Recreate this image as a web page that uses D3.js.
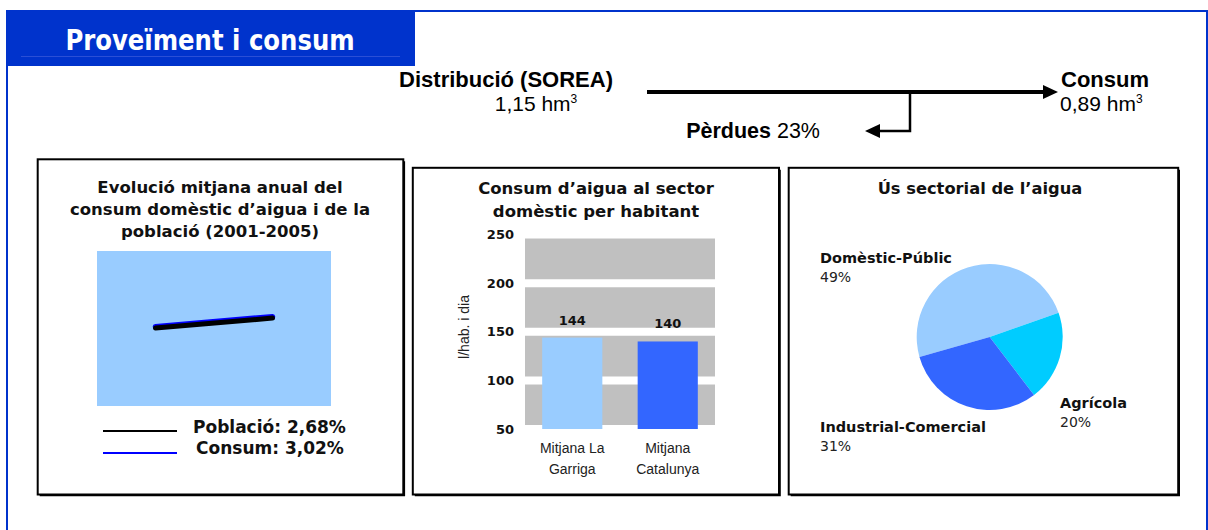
<!DOCTYPE html>
<html><head><meta charset="utf-8">
<script src="https://cdn.jsdelivr.net/npm/d3@7"></script>
<style>
html,body{margin:0;padding:0;background:#fff;}
svg{display:block;}
</style></head>
<body>
<svg id="c" width="1208" height="530"></svg>
<script>
// ---- data ----
const pageTitle = "Proveïment i consum";
const flowSource = ["Distribució (SOREA)", "1,15 hm", "3"];
const flowTarget = ["Consum", "0,89 hm", "3"];
const flowLoss = ["Pèrdues", " 23%"];

const lineTitle = ["Evolució mitjana anual del", "consum domèstic d’aigua i de la", "població (2001-2005)"];
const lineYears = [2001, 2005];
const poblacio = [100, 111];
const consum = [101.5, 112.5];
const lineLegend = ["Població: 2,68%", "Consum: 3,02%"];

const barTitle = ["Consum d’aigua al sector", "domèstic per habitant"];
const barCategories = [["Mitjana La", "Garriga"], ["Mitjana", "Catalunya"]];
const barValues = [144, 140];
const barTicks = [50, 100, 150, 200, 250];
const barAxisTitle = "l/hab. i dia";

const pieTitle = "Ús sectorial de l’aigua";
const pieCategories = ["Domèstic-Públic", "Agrícola", "Industrial-Comercial"];
const pieValues = [49, 20, 31];

// ---- drawing ----
const svg = d3.select("#c");
const BLUE = "#0033cc";
const boldF = "'DejaVu Sans', Verdana, sans-serif";
const armF = "'Liberation Sans', Arial, sans-serif";

// outer frame
svg.append("path").attr("d", "M7,530 V11 H1207 V530").attr("fill", "none").attr("stroke", BLUE).attr("stroke-width", 2);
svg.append("rect").attr("x", 6).attr("y", 10).attr("width", 409).attr("height", 56).attr("fill", BLUE);
svg.append("line").attr("x1", 21).attr("x2", 400).attr("y1", 56.5).attr("y2", 56.5).attr("stroke", "#2a4fd6").attr("stroke-width", 1);
svg.append("text").attr("transform", "translate(210,50) scale(0.87,1)").attr("text-anchor", "middle")
  .attr("font-family", boldF).attr("font-weight", "bold").attr("font-size", 28).attr("fill", "#fff").text(pageTitle);

// flow diagram
const fs = svg.append("g");
fs.append("text").attr("x", 613).attr("y", 87).attr("text-anchor", "end").attr("font-family", armF)
  .attr("font-weight", "bold").attr("font-size", 22).text(flowSource[0]);
let t1 = fs.append("text").attr("x", 536).attr("y", 111).attr("text-anchor", "middle").attr("font-family", armF).attr("font-size", 21);
t1.append("tspan").text(flowSource[1]);
t1.append("tspan").attr("dy", -8).attr("font-size", 12).text(flowSource[2]);
fs.append("text").attr("x", 1061).attr("y", 87).attr("font-family", armF).attr("font-weight", "bold").attr("font-size", 22).text(flowTarget[0]);
let t2 = fs.append("text").attr("x", 1060).attr("y", 111).attr("font-family", armF).attr("font-size", 21);
t2.append("tspan").text(flowTarget[1]);
t2.append("tspan").attr("dy", -8).attr("font-size", 12).text(flowTarget[2]);
let t3 = fs.append("text").attr("x", 820).attr("y", 138).attr("text-anchor", "end").attr("font-family", armF).attr("font-size", 21.5);
t3.append("tspan").attr("font-weight", "bold").text(flowLoss[0]);
t3.append("tspan").text(flowLoss[1]);
// arrows
fs.append("line").attr("x1", 647).attr("x2", 1045).attr("y1", 92).attr("y2", 92).attr("stroke", "#000").attr("stroke-width", 4);
fs.append("path").attr("d", "M1043,85 L1058,92 L1043,99 Z").attr("fill", "#000");
fs.append("path").attr("d", "M910,92 V131 H878").attr("fill", "none").attr("stroke", "#000").attr("stroke-width", 2.5);
fs.append("path").attr("d", "M880,124 L865,131 L880,138 Z").attr("fill", "#000");

// panels
function panel(x0, y0, x1, y1) {
  svg.append("rect").attr("x", x0).attr("y", y0).attr("width", x1 - x0).attr("height", y1 - y0)
    .attr("fill", "#fff").attr("stroke", "#000").attr("stroke-width", 2);
  svg.append("path").attr("d", `M${x0 + 2},${y1 + 1.2} H${x1 + 1.2} V${y0 + 2}`).attr("fill", "none").attr("stroke", "#000").attr("stroke-width", 1.2);
}
panel(37.7, 159.3, 403.3, 494.5);
panel(412.8, 167.8, 779, 494.5);
panel(788.7, 167.8, 1178.2, 494.5);

function titleLines(lines, cx, y0, dy, size) {
  lines.forEach((l, i) => svg.append("text").attr("x", cx).attr("y", y0 + i * dy).attr("text-anchor", "middle")
    .attr("font-family", boldF).attr("font-weight", "bold").attr("font-size", size).attr("fill", "#111").text(l));
}

// ---- panel 1: line chart ----
titleLines(lineTitle, 220, 193, 22, 16.5);
const lx = d3.scaleLinear().domain([1999, 2007]).range([97, 331]);
const ly = d3.scaleLinear().domain([14, 185]).range([406, 251]);
svg.append("rect").attr("x", lx(1999)).attr("y", ly(185)).attr("width", lx(2007) - lx(1999)).attr("height", ly(14) - ly(185)).attr("fill", "#99ccff");
const line = d3.line().x((d, i) => lx(lineYears[i])).y(d => ly(d));
svg.append("path").attr("d", line(consum)).attr("fill", "none").attr("stroke", "#0000ff").attr("stroke-width", 5.5).attr("stroke-linecap", "round");
svg.append("path").attr("d", line(poblacio)).attr("fill", "none").attr("stroke", "#000").attr("stroke-width", 5).attr("stroke-linecap", "round");
const legCol = ["#000", "#0000ff"];
lineLegend.forEach((l, i) => {
  svg.append("line").attr("x1", 103).attr("x2", 177).attr("y1", 431 + i * 22).attr("y2", 431 + i * 22).attr("stroke", legCol[i]).attr("stroke-width", 2);
  svg.append("text").attr("x", 193 + i * 3).attr("y", 433 + i * 21).attr("font-family", boldF).attr("font-weight", "bold")
    .attr("font-size", 17).attr("fill", "#111").text(l);
});

// ---- panel 2: bar chart ----
titleLines(barTitle, 596, 194, 23, 16.5);
const by = d3.scaleLinear().domain([50, 250]).range([429, 234.5]);
const bx = d3.scaleBand().domain(barCategories.map(d => d.join(" "))).range([525, 715]).paddingInner(0.37).paddingOuter(0.18);
svg.append("rect").attr("x", 525).attr("y", by(250)).attr("width", 190).attr("height", by(50) - by(250)).attr("fill", "#c0c0c0");
barTicks.forEach(v => {
  svg.append("line").attr("x1", 525).attr("x2", 715).attr("y1", by(v)).attr("y2", by(v)).attr("stroke", "#fff").attr("stroke-width", 8);
  svg.append("text").attr("x", 514).attr("y", by(v)).attr("dy", "0.36em").attr("text-anchor", "end")
    .attr("font-family", boldF).attr("font-weight", "bold").attr("font-size", 13).attr("fill", "#111").text(v);
});
const barCol = ["#99ccff", "#3366ff"];
barCategories.forEach((c, i) => {
  const k = c.join(" ");
  svg.append("rect").attr("x", bx(k)).attr("y", by(barValues[i])).attr("width", bx.bandwidth()).attr("height", by(50) - by(barValues[i])).attr("fill", barCol[i]);
  svg.append("text").attr("x", bx(k) + bx.bandwidth() / 2).attr("y", by(barValues[i]) - 13).attr("text-anchor", "middle")
    .attr("font-family", boldF).attr("font-weight", "bold").attr("font-size", 13).attr("fill", "#111").text(barValues[i]);
  c.forEach((s, j) => svg.append("text").attr("x", bx(k) + bx.bandwidth() / 2).attr("y", 453 + j * 21).attr("text-anchor", "middle")
    .attr("font-family", armF).attr("font-size", 14).attr("fill", "#222").text(s));
});
svg.append("text").attr("transform", "translate(469,327) rotate(-90)").attr("text-anchor", "middle")
  .attr("font-family", armF).attr("font-size", 14).attr("fill", "#222").text(barAxisTitle);

// ---- panel 3: pie ----
titleLines([pieTitle], 980, 194, 22, 16.3);
const pieCol = ["#99ccff", "#00ccff", "#3366ff"];
const pie = d3.pie().sort(null).startAngle(-105.8 * Math.PI / 180).endAngle((360 - 105.8) * Math.PI / 180);
const arc = d3.arc().innerRadius(0).outerRadius(73);
const pg = svg.append("g").attr("transform", "translate(989.7,337)");
pg.selectAll("path").data(pie(pieValues)).join("path").attr("d", arc).attr("fill", (d, i) => pieCol[i]);
const pieLabelPos = [[820, 263], [1060, 408], [820, 432]];
pieCategories.forEach((c, i) => {
  svg.append("text").attr("x", pieLabelPos[i][0]).attr("y", pieLabelPos[i][1]).attr("font-family", boldF).attr("font-weight", "bold")
    .attr("font-size", 14.5).attr("fill", "#111").text(c);
  svg.append("text").attr("x", pieLabelPos[i][0]).attr("y", pieLabelPos[i][1] + 19).attr("font-family", boldF)
    .attr("font-size", 14).attr("fill", "#222").text(pieValues[i] + "%");
});
</script>
</body></html>
